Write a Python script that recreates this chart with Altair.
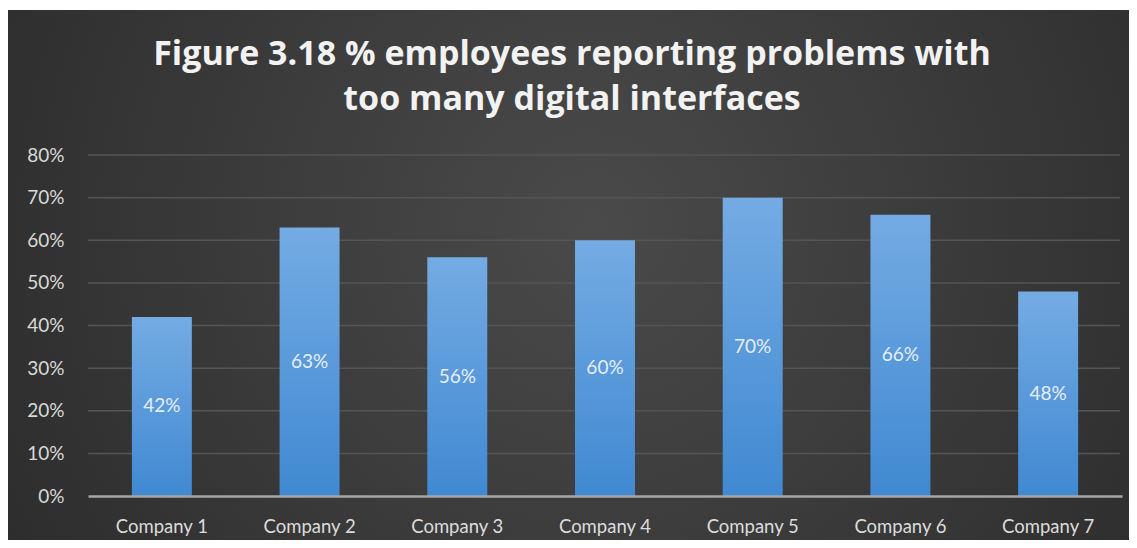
import altair as alt
import pandas as pd

companies = ["Company 1", "Company 2", "Company 3", "Company 4", "Company 5", "Company 6", "Company 7"]
values = [0.42, 0.63, 0.56, 0.60, 0.70, 0.66, 0.48]
grid_values = [0.1, 0.2, 0.3, 0.4, 0.5, 0.6, 0.7, 0.8]
title_lines = ["Figure 3.18 % employees reporting problems with", "too many digital interfaces"]

W, H = 1034, 341
FONT = "Lato"

df = pd.DataFrame({"company": companies, "value": values})
grid_df = pd.DataFrame({"v": grid_values})
bg_df = pd.DataFrame({"k": [0]})

y_scale = alt.Scale(domain=[0, 0.8], nice=False, zero=True)
x_scale = alt.Scale(paddingInner=0.594, paddingOuter=0.297)

bg = alt.Chart(bg_df).mark_rect(
    fill=alt.RadialGradient(
        gradient="radial",
        x1=0.52, y1=0.45, r1=0.0,
        x2=0.52, y2=0.45, r2=0.75,
        stops=[alt.GradientStop(offset=0, color="#4a4a4a"),
               alt.GradientStop(offset=1, color="#252525")],
    )
).encode(
    x=alt.value(-81), x2=alt.value(W + 15),
    y=alt.value(-145), y2=alt.value(H + 60),
)

grid = alt.Chart(grid_df).mark_rule(color="#555555", strokeWidth=1.5).encode(
    y=alt.Y("v:Q", scale=y_scale),
    x=alt.value(0), x2=alt.value(W - 2),
)

bars = alt.Chart(df).mark_bar(
    fill=alt.LinearGradient(
        gradient="linear", x1=0, x2=0, y1=0, y2=1,
        stops=[alt.GradientStop(offset=0, color="#74abe3"),
               alt.GradientStop(offset=1, color="#4089d2")],
    )
).encode(
    x=alt.X("company:N", sort=companies, scale=x_scale,
            axis=alt.Axis(title=None, labelAngle=0, ticks=False, tickSize=0,
                          labelPadding=21, labelFont=FONT, labelFontSize=18.5,
                          labelColor="#dcdcdc", domain=True, domainColor="#a6a6a6",
                          domainWidth=2.5, grid=False, zindex=1)),
    y=alt.Y("value:Q", scale=y_scale,
            axis=alt.Axis(title=None, format=".0%", values=[0, 0.1, 0.2, 0.3, 0.4, 0.5, 0.6, 0.7, 0.8],
                          ticks=False, tickSize=0, domain=False, grid=False,
                          labelPadding=24, labelFont=FONT, labelFontSize=19,
                          labelColor="#d9d9d9", zindex=1)),
)

labels = alt.Chart(df).transform_calculate(mid="datum.value / 2").mark_text(
    font=FONT, fontSize=19, color="#e6eef8", baseline="middle", align="center"
).encode(
    x=alt.X("company:N", sort=companies, scale=x_scale),
    y=alt.Y("mid:Q", scale=y_scale),
    text=alt.Text("value:Q", format=".0%"),
)

chart = alt.layer(bg, grid, bars, labels).properties(
    width=W, height=H,
    padding={"left": 80, "top": 147, "right": 7, "bottom": 44},
    autosize=alt.AutoSizeParams(type="none"),
    title=alt.TitleParams(
        text=title_lines, font="Open Sans", fontSize=34, fontWeight="bold",
        color="#f2f2f2", anchor="middle", frame="bounds", offset=-107,
        lineHeight=45,
    ),
).configure_view(stroke=None).configure(background="white")

chart.save("out.html", embed_options={"renderer": "svg", "actions": False})
